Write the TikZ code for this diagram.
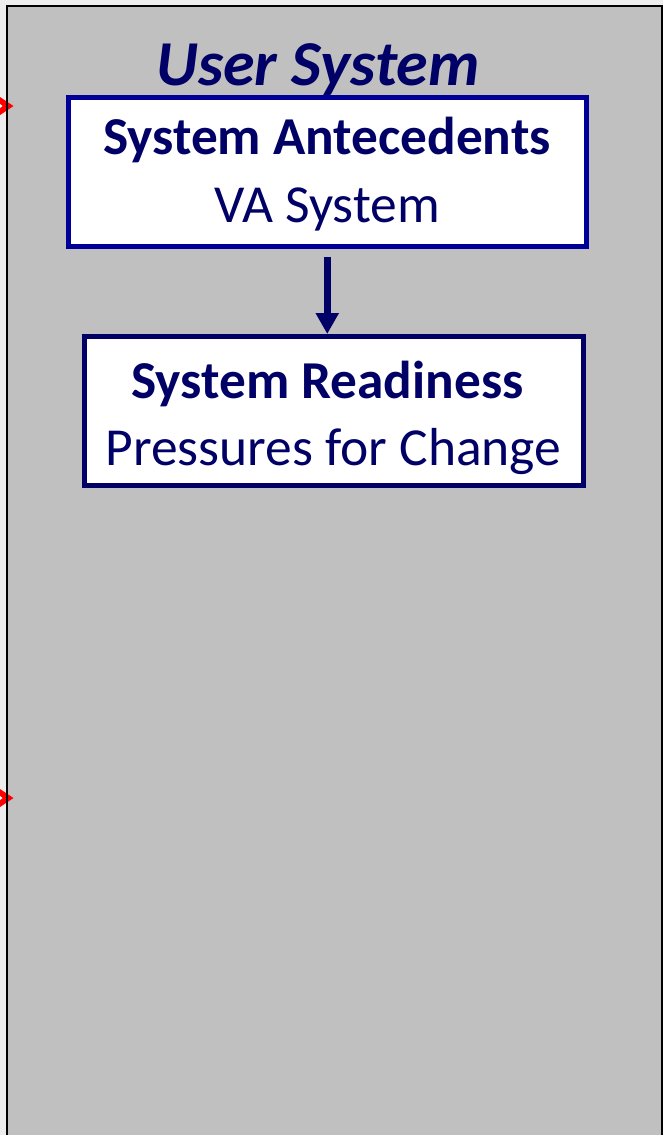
\documentclass[tikz,border=0pt]{standalone}
\usepackage{fontspec}
\setmainfont{Carlito}
\usetikzlibrary{arrows.meta,calc}
\definecolor{outerbg}{HTML}{EDEDED}
\definecolor{panelgray}{HTML}{C0C0C0}
\definecolor{navy}{HTML}{000066}
\definecolor{boxblue}{HTML}{000099}
\definecolor{tipred}{HTML}{FF0000}
\tikzset{
  box/.style={draw, fill=white, line width=5bp, rectangle, inner sep=0pt},
  txt/.style={anchor=base, inner sep=0pt, text=navy},
  big/.style={font=\fontsize{53.5bp}{60bp}\selectfont},
  bigbold/.style={font=\fontsize{53.3bp}{60bp}\selectfont\bfseries},
  flow/.style={draw=navy, line width=7.5bp, -{Triangle[width=22bp,length=21bp]}, fill=navy}
}
\begin{document}
\begin{tikzpicture}[x=1bp,y=-1bp]
\useasboundingbox (0,0) rectangle (663,1135);
\clip (0,0) rectangle (663,1135);
\fill[outerbg] (0,0) rectangle (663,1135);
\fill[panelgray] (7,5.5) rectangle (662,1140);
% red arrow tips entering from the left
\fill[tipred] (0,97) -- (13.5,106) -- (0,115) -- cycle;
\fill[white] (0,104) -- (2.5,106) -- (0,108) -- cycle;
\fill[tipred] (0,789) -- (13.5,798) -- (0,807) -- cycle;
\fill[white] (0,796) -- (2.5,798) -- (0,800) -- cycle;
\draw[black, line width=2bp] (7,1140) -- (7,5.5) -- (662,5.5) -- (662,1140);
% title
\node[txt, font=\fontsize{64bp}{70bp}\selectfont\bfseries\itshape] (title) at (318,85) {User System};
% boxes
\node[box, draw=boxblue, minimum width=517.5bp, minimum height=148.5bp] (a) at (327.25,171.75) {};
\node[box, draw=navy, minimum width=499bp, minimum height=149bp] (b) at (334,411) {};
\node[txt, bigbold] (a1) at (327,154) {System Antecedents};
\node[txt, big] (a2) at (327,222) {VA System};
\node[txt, bigbold] (b1) at (327.5,398) {System Readiness};
\node[txt, big] (b2) at (333.5,465) {Pressures for Change};
% arrow
\coordinate (s) at ($(a.south)+(0,8)$);
\coordinate (e) at (s |- b.north);
\draw[flow] (s) -- (e);
\end{tikzpicture}
\end{document}
